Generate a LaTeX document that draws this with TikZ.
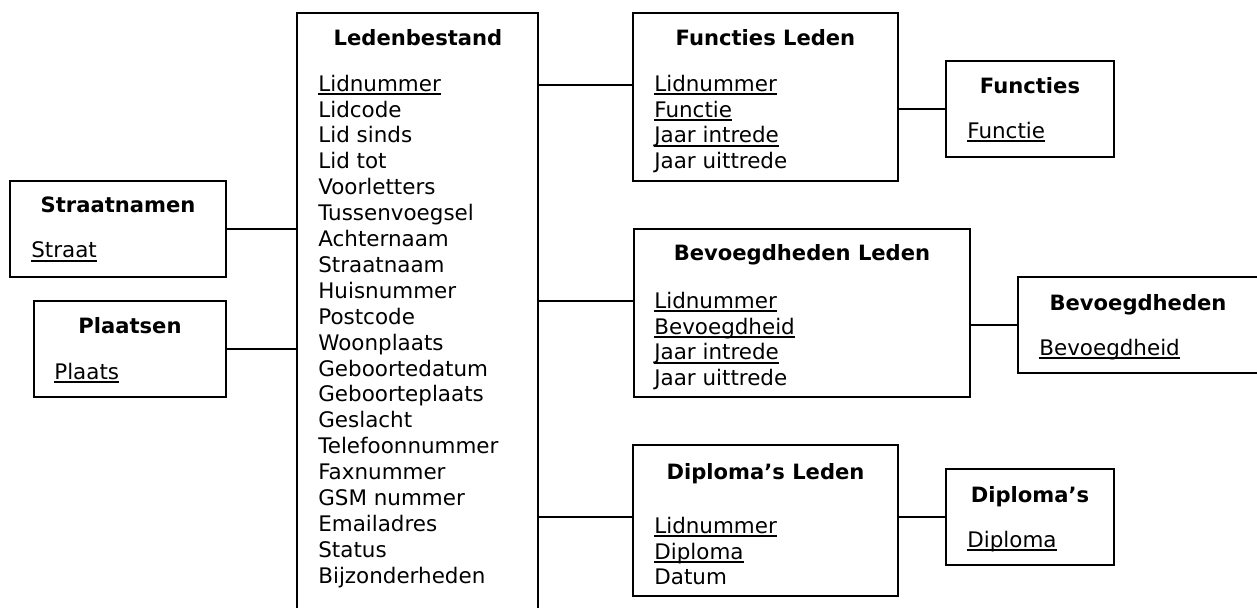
\documentclass[tikz,border=0pt]{standalone}
\usepackage{fontspec}
\setmainfont{DejaVu Sans}

\tikzset{
	tbl/.style={shape=rectangle, draw, line width=1.1pt, inner sep=0pt},
	ttl/.style={anchor=base, inner sep=0pt, font=\fontsize{12}{14.74}\selectfont\bfseries},
	fld/.style={anchor=north west, align=left, inner sep=0pt, font=\fontsize{12.2}{14.74}\selectfont},
	lnk/.style={line width=1.1pt}
}
\newsavebox{\pkbox}
\newcommand{\pk}[1]{\sbox{\pkbox}{#1}\rlap{\rule[-2.2pt]{\wd\pkbox}{0.9pt}}\usebox{\pkbox}}

\begin{document}
\begin{tikzpicture}
		\clip (0, 0) rectangle (25.14, 12.14);
		% Tables:
		\node[tbl, minimum width=4.82cm, minimum height=12.74cm] (lb) at (8.35, 5.51){};
		\node[tbl, minimum width=4.32cm, minimum height=1.92cm] (st) at (2.36, 7.56){};
		\node[tbl, minimum width=3.84cm, minimum height=1.92cm] (pl) at (2.60, 5.16){};
		\node[tbl, minimum width=5.30cm, minimum height=3.36cm] (fl) at (15.31, 10.20){};
		\node[tbl, minimum width=3.36cm, minimum height=1.92cm] (fu) at (20.60, 9.96){};
		\node[tbl, minimum width=6.72cm, minimum height=3.36cm] (bl) at (16.04, 5.88){};
		\node[tbl, minimum width=4.88cm, minimum height=1.92cm] (bv) at (22.80, 5.64){};
		\node[tbl, minimum width=5.30cm, minimum height=3.02cm] (dl) at (15.31, 1.73){};
		\node[tbl, minimum width=3.36cm, minimum height=1.92cm] (di) at (20.60, 1.80){};
		% Titles:
		\node[ttl] (lb-t) at (8.36, 11.24){Ledenbestand};
		\node[ttl] (st-t) at (2.36, 7.90){Straatnamen};
		\node[ttl] (pl-t) at (2.60, 5.48){Plaatsen};
		\node[ttl] (fl-t) at (15.31, 11.24){Functies Leden};
		\node[ttl] (fu-t) at (20.60, 10.28){Functies};
		\node[ttl] (bl-t) at (16.04, 6.94){Bevoegdheden Leden};
		\node[ttl] (bv-t) at (22.76, 5.94){Bevoegdheden};
		\node[ttl] (dl-t) at (15.31, 2.56){Diploma’s Leden};
		\node[ttl] (di-t) at (20.60, 2.10){Diploma’s};
		% Fields:
		\node[fld] (lb-f) at (6.36, 10.65){\pk{Lidnummer}\\ Lidcode\\ Lid sinds\\ Lid tot\\ Voorletters\\ Tussenvoegsel\\ Achternaam\\ Straatnaam\\ Huisnummer\\ Postcode\\ Woonplaats\\ Geboortedatum\\ Geboorteplaats\\ Geslacht\\ Telefoonnummer\\ Faxnummer\\ GSM nummer\\ Emailadres\\ Status\\ Bijzonderheden};
		\node[fld] (st-f) at (0.62, 7.31){\pk{Straat}};
		\node[fld] (pl-f) at (1.08, 4.89){\pk{Plaats}};
		\node[fld] (fl-f) at (13.08, 10.65){\pk{Lidnummer}\\ \pk{Functie}\\ \pk{Jaar intrede}\\ Jaar uittrede};
		\node[fld] (fu-f) at (19.34, 9.71){\pk{Functie}};
		\node[fld] (bl-f) at (13.08, 6.31){\pk{Lidnummer}\\ \pk{Bevoegdheid}\\ \pk{Jaar intrede}\\ Jaar uittrede};
		\node[fld] (bv-f) at (20.78, 5.37){\pk{Bevoegdheid}};
		\node[fld] (dl-f) at (13.08, 1.81){\pk{Lidnummer}\\ \pk{Diploma}\\ Datum};
		\node[fld] (di-f) at (19.34, 1.53){\pk{Diploma}};
		% Links:
		\coordinate (fl-in) at (12.66, 10.44);
		\coordinate (bl-in) at (12.68, 6.12);
		\draw[lnk] (st.east) -- (lb.west |- st.east);
		\draw[lnk] (pl.east) -- (lb.west |- pl.east);
		\draw[lnk] (lb.east |- fl-in) -- (fl-in);
		\draw[lnk] (lb.east |- bl-in) -- (bl-in);
		\draw[lnk] (lb.east |- di.west) -- (dl.west |- di.west);
		\draw[lnk] (fl.east |- fu.west) -- (fu.west);
		\draw[lnk] (bl.east |- bv.west) -- (bv.west);
		\draw[lnk] (dl.east |- di.west) -- (di.west);
	\end{tikzpicture}
\end{document}
